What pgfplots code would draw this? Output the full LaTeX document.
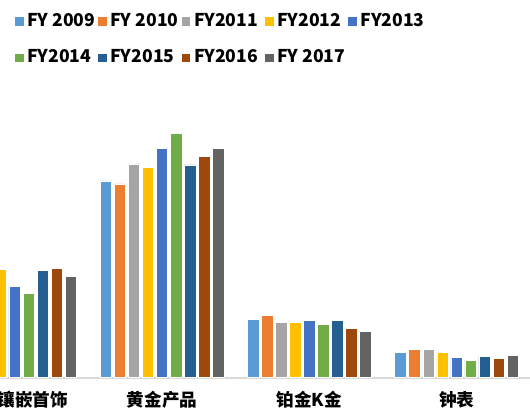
\documentclass[border=0pt]{standalone}
\usepackage{pgfplots}
\pgfplotsset{compat=1.18}
\usepackage{fontspec}
\setmainfont{Noto Sans CJK SC}
\definecolor{c1}{HTML}{5B9BD5}
\definecolor{c2}{HTML}{ED7D31}
\definecolor{c3}{HTML}{A5A5A5}
\definecolor{c4}{HTML}{FFC000}
\definecolor{c5}{HTML}{4472C4}
\definecolor{c6}{HTML}{70AD47}
\definecolor{c7}{HTML}{255E91}
\definecolor{c8}{HTML}{9E480E}
\definecolor{c9}{HTML}{636363}
\definecolor{baseline}{HTML}{D9D9D9}
\pgfplotsset{sqlegend/.style={legend image code/.code={\fill[##1,draw=none] (0pt,-3.25pt) rectangle (6.5pt,3.25pt);}}}
\begin{document}
\begin{tikzpicture}
\useasboundingbox (0pt,0pt) rectangle (397.5pt,310.5pt);
\clip (0pt,0pt) rectangle (397.5pt,310.5pt);
\begin{axis}[
  at={(0pt,27.375pt)}, anchor=south west,
  x=110.475pt, y=0.75pt,
  xmin=-0.0998, xmax=3.4984, ymin=0, ymax=377.5,
  ybar=1.93pt, bar width=8.6pt,
  axis y line=none, axis x line=bottom,
  x axis line style={-, draw=baseline, line width=1.5pt},
  xtick={0.124,1,2,3},
  xticklabels={镶嵌首饰,黄金产品,铂金K金,钟表},
  major tick length=0pt,
  xticklabel style={font=\fontsize{13.2}{15}\selectfont\bfseries, anchor=center, inner sep=0pt, yshift=-16.9pt},
  every axis plot post/.append style={sqlegend},
  legend columns=5,
  legend style={at={(axis description cs:0.0277,0.9664)}, anchor=north west,
    draw=none, fill=none, inner sep=0pt, row sep=14.4pt,
    font=\fontsize{13.2}{15}\selectfont\bfseries,
    nodes={inner sep=0pt, text height=10pt, text depth=3pt},
    cells={anchor=west},
    /tikz/every odd column/.append style={column sep=2.8pt},
    /tikz/every even column/.append style={column sep=0pt}},
]
\addplot[fill=c1, draw=white, line width=0.4pt] coordinates {(0,105) (1,196.5) (2,58.2) (3,25.2)};
\addlegendentry{\makebox[53.2pt][l]{FY 2009}}
\addplot[fill=c2, draw=white, line width=0.4pt] coordinates {(0,110) (1,193.5) (2,62.5) (3,27.8)};
\addlegendentry{\makebox[53.2pt][l]{FY 2010}}
\addplot[fill=c3, draw=white, line width=0.4pt] coordinates {(0,112) (1,213.5) (2,55.5) (3,28.2)};
\addlegendentry{\makebox[53.2pt][l]{FY2011}}
\addplot[fill=c4, draw=white, line width=0.4pt] coordinates {(0,108.2) (1,209.8) (2,54.8) (3,25.5)};
\addlegendentry{\makebox[53.2pt][l]{FY2012}}
\addplot[fill=c5, draw=white, line width=0.4pt] coordinates {(0,91.5) (1,228.8) (2,57.5) (3,20.5)};
\addlegendentry{\makebox[53.2pt][l]{FY2013}}
\addplot[fill=c6, draw=white, line width=0.4pt] coordinates {(0,84.2) (1,243.8) (2,53.5) (3,17.2)};
\addlegendentry{\makebox[53.2pt][l]{FY2014}}
\addplot[fill=c7, draw=white, line width=0.4pt] coordinates {(0,107.5) (1,212.5) (2,57.2) (3,21.2)};
\addlegendentry{\makebox[53.2pt][l]{FY2015}}
\addplot[fill=c8, draw=white, line width=0.4pt] coordinates {(0,109.2) (1,221.2) (2,49.2) (3,19.5)};
\addlegendentry{\makebox[53.2pt][l]{FY2016}}
\addplot[fill=c9, draw=white, line width=0.4pt] coordinates {(0,101.2) (1,229.2) (2,45.8) (3,22.2)};
\addlegendentry{\makebox[53.2pt][l]{FY 2017}}
\end{axis}
\end{tikzpicture}
\end{document}
